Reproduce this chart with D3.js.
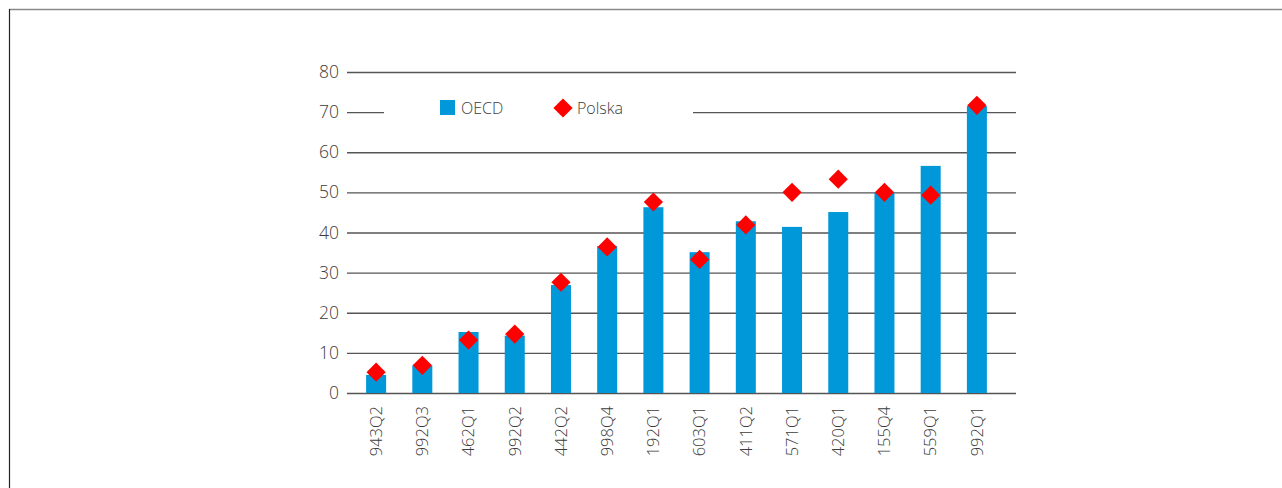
<!DOCTYPE html>
<html lang="en">
	<head>
		<meta charset="utf-8">
		<title>OECD vs Polska</title>
		<script src="https://d3js.org/d3.v7.min.js"></script>
		<style type="text/css">
			body { margin: 0; background: #fff; }
			text { font-family: "Open Sans", sans-serif; font-weight: 300; }
		</style>
	</head>
	<body>
		<script type="text/javascript">

			//Data
			var categories = ["943Q2", "992Q3", "462Q1", "992Q2", "442Q2", "998Q4", "192Q1",
							  "603Q1", "411Q2", "571Q1", "420Q1", "155Q4", "559Q1", "992Q1"];
			var oecd = [4.5, 6.9, 15.2, 14.3, 26.9, 36.6, 46.3, 35.1, 42.8, 41.4, 45.1, 50.0, 56.6, 71.5];
			var polska = [5.2, 6.9, 13.2, 14.7, 27.6, 36.4, 47.6, 33.3, 41.9, 50.0, 53.3, 50.0, 49.3, 71.7];
			var yTicks = [0, 10, 20, 30, 40, 50, 60, 70, 80];
			var seriesNames = ["OECD", "Polska"];

			//Width and height
			var w = 1282;
			var h = 488;
			var gridLeft = 347;
			var gridRight = 1016;

			var svg = d3.select("body")
						.append("svg")
						.attr("width", w)
						.attr("height", h);

			//Frame
			svg.append("line")
				.attr("x1", 9).attr("x2", w)
				.attr("y1", 9.5).attr("y2", 9.5)
				.attr("stroke", "#8a8a8a")
				.attr("stroke-width", 1.5);
			svg.append("line")
				.attr("x1", 9.5).attr("x2", 9.5)
				.attr("y1", 9).attr("y2", h)
				.attr("stroke", "#222")
				.attr("stroke-width", 1.2);

			//Scales
			var xScale = d3.scaleBand()
					.domain(categories)
					.range([353, 1000])
					.paddingInner(0.567)
					.paddingOuter(0.2835);

			var yScale = d3.scaleLinear()
					.domain([0, 80])
					.range([393, 72]);

			//Y axis with gridlines
			var yAxis = d3.axisLeft(yScale)
					.tickValues(yTicks)
					.tickSize(-(gridRight - gridLeft))
					.tickPadding(8);

			var gy = svg.append("g")
				.attr("transform", "translate(" + gridLeft + ",0)")
				.call(yAxis);
			gy.select(".domain").remove();
			gy.selectAll("line")
				.attr("stroke", "#555")
				.attr("stroke-width", 1.3);
			gy.selectAll("text")
				.attr("font-size", "17.5px")
				.attr("fill", "#3c3c3c")
				.attr("font-family", "Open Sans, sans-serif");

			//Legend background covering gridline
			svg.append("rect")
				.attr("x", 384)
				.attr("y", 90)
				.attr("width", 309)
				.attr("height", 40)
				.attr("fill", "#fff");

			//Bars
			svg.selectAll("rect.bar")
				.data(oecd)
				.enter()
				.append("rect")
				.attr("class", "bar")
				.attr("x", function(d, i) { return xScale(categories[i]); })
				.attr("y", function(d) { return yScale(d); })
				.attr("width", xScale.bandwidth())
				.attr("height", function(d) { return yScale(0) - yScale(d); })
				.attr("fill", "#0098d9");

			//Diamonds
			var diamond = d3.symbol().type(d3.symbolSquare).size(185);
			svg.selectAll("path.pt")
				.data(polska)
				.enter()
				.append("path")
				.attr("class", "pt")
				.attr("d", diamond)
				.attr("transform", function(d, i) {
					return "translate(" + (xScale(categories[i]) + xScale.bandwidth() / 2) + "," + yScale(d) + ") rotate(45)";
				})
				.attr("fill", "#ff0000");

			//X axis labels
			var xAxis = d3.axisBottom(xScale).tickSize(0).tickPadding(0);
			var gx = svg.append("g")
				.attr("transform", "translate(0,393)")
				.call(xAxis);
			gx.select(".domain").remove();
			gx.selectAll("text")
				.attr("transform", "rotate(-90)")
				.attr("text-anchor", "end")
				.attr("x", -13)
				.attr("y", 0)
				.attr("dy", "0.35em")
				.attr("font-size", "16.5px")
				.attr("fill", "#3c3c3c")
				.attr("font-family", "Open Sans, sans-serif");

			//Legend
			svg.append("rect")
				.attr("x", 440)
				.attr("y", 100)
				.attr("width", 15)
				.attr("height", 15)
				.attr("fill", "#0098d9");
			svg.append("text")
				.attr("x", 461)
				.attr("y", 114)
				.attr("font-size", "16px")
				.attr("fill", "#3c3c3c")
				.text(seriesNames[0]);
			svg.append("path")
				.attr("d", diamond)
				.attr("transform", "translate(563,108) rotate(45)")
				.attr("fill", "#ff0000");
			svg.append("text")
				.attr("x", 577)
				.attr("y", 114)
				.attr("font-size", "16px")
				.attr("fill", "#3c3c3c")
				.text(seriesNames[1]);

		</script>
	</body>
</html>
